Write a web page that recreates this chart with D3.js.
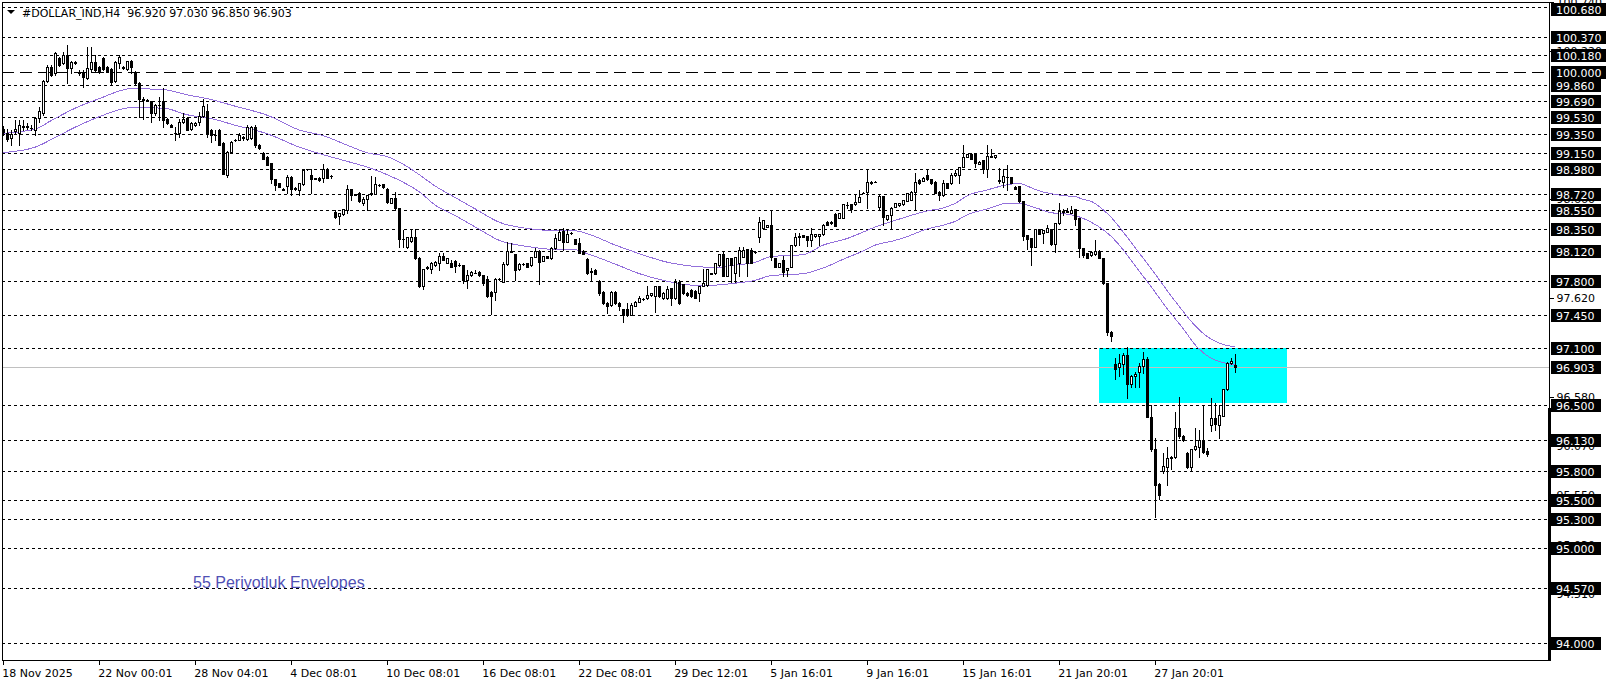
<!DOCTYPE html>
<html><head><meta charset="utf-8">
<script src="https://cdn.jsdelivr.net/npm/d3@7"></script>
<style>html,body{margin:0;padding:0;background:#fff;}svg{display:block;}</style>
</head><body>
<svg id="chart" width="1606" height="684"></svg>
<script>
// ---------------- DATA ----------------
const titleText = "#DOLLAR_IND,H4  96.920 97.030 96.850 96.903";
const indicatorLabel = "55 Periyotluk Envelopes";

const opens = [
99.40,99.355,99.31,99.38,99.355,99.43,99.42,99.415,99.39,99.52,
99.565,99.90,100.05,99.985,100.145,100.09,100.18,100.04,100.11,99.99,
99.985,99.935,100.03,100.11,100.05,100.145,100.055,100.03,99.90,100.09,
100.04,100.03,100.12,100.00,99.885,99.72,99.70,99.69,99.565,99.65,
99.69,99.51,99.44,99.355,99.355,99.475,99.52,99.40,99.44,99.475,
99.535,99.585,99.39,99.335,99.39,99.25,98.92,99.16,99.28,99.285,
99.32,99.30,99.31,99.425,99.23,99.15,99.11,99.04,98.87,98.83,
98.775,98.80,98.90,98.78,98.76,98.82,98.975,98.915,98.88,98.89,
98.89,98.985,98.905,98.53,98.485,98.505,98.55,98.765,98.71,98.73,
98.625,98.66,98.72,98.72,98.81,98.82,98.775,98.625,98.67,98.565,
98.24,98.165,98.22,98.27,98.04,97.75,97.94,97.925,97.97,97.995,
98.065,97.995,97.99,98.015,97.97,97.97,97.815,97.865,97.89,97.90,
97.865,97.82,97.69,97.69,97.82,97.795,97.98,98.11,98.085,97.925,
97.98,97.99,97.97,98.06,98.12,98.015,98.065,98.04,98.145,98.235,
98.33,98.215,98.31,98.24,98.20,98.12,98.03,97.90,97.92,97.805,
97.69,97.575,97.55,97.69,97.57,97.505,97.505,97.445,97.54,97.585,
97.61,97.62,97.655,97.64,97.745,97.62,97.62,97.725,97.62,97.795,
97.77,97.68,97.71,97.70,97.68,97.75,97.76,97.88,97.885,97.97,
98.085,97.855,98.04,97.89,97.99,98.06,98.135,98.13,98.11,98.26,
98.355,98.375,98.39,98.04,97.955,98.025,97.92,97.955,98.18,98.27,
98.285,98.275,98.235,98.275,98.275,98.295,98.425,98.41,98.505,98.47,
98.47,98.60,98.61,98.61,98.635,98.73,98.74,98.845,98.845,98.585,
98.695,98.45,98.495,98.585,98.60,98.61,98.645,98.655,98.74,98.865,
98.855,98.915,98.87,98.845,98.74,98.705,98.83,98.83,98.915,98.915,
99.005,99.11,99.14,99.14,99.035,99.07,98.985,99.12,99.105,98.865,
98.845,98.90,98.895,98.795,98.80,98.64,98.285,98.25,98.165,98.345,
98.305,98.32,98.345,98.19,98.41,98.53,98.53,98.52,98.555,98.46,
98.145,98.095,98.075,98.085,98.12,98.04,97.78,97.27,96.93,96.895,
96.935,97.025,96.715,96.80,96.85,96.91,96.98,96.376,96.033,95.67,
95.809,95.851,95.938,95.949,96.261,96.173,95.998,95.851,96.033,96.061,
96.131,96.016,96.289,96.359,96.289,96.383,96.664,96.937,96.92];

const highs = [
99.43,99.405,99.39,99.495,99.50,99.495,99.46,99.44,99.53,99.63,
99.92,100.07,100.07,100.205,100.16,100.205,100.285,100.12,100.115,100.02,
100.02,100.26,100.265,100.18,100.06,100.16,100.06,100.04,100.12,100.18,
100.06,100.12,100.125,100.01,99.89,99.74,99.72,99.70,99.66,99.74,
99.83,99.52,99.45,99.425,99.51,99.565,99.53,99.47,99.475,99.58,
99.72,99.66,99.40,99.39,99.40,99.26,99.165,99.27,99.30,99.355,
99.33,99.445,99.43,99.445,99.24,99.16,99.12,99.045,98.875,98.835,
98.78,98.915,98.905,98.79,98.835,98.975,98.98,98.975,98.89,98.895,
99.03,98.99,98.92,98.55,98.52,98.56,98.81,98.77,98.72,98.735,
98.69,98.71,98.905,98.90,98.82,98.825,98.78,98.675,98.74,98.57,
98.34,98.27,98.345,98.345,98.05,97.93,97.96,98.00,98.01,98.10,
98.10,98.045,98.025,98.02,97.995,97.975,97.92,97.905,97.92,97.905,
97.87,97.855,97.695,97.83,97.83,98.005,98.215,98.20,98.09,97.99,
97.99,97.995,98.06,98.145,98.125,98.07,98.07,98.155,98.295,98.345,
98.355,98.34,98.32,98.245,98.25,98.125,98.04,97.935,97.925,97.815,
97.695,97.58,97.695,97.695,97.585,97.51,97.575,97.575,97.59,97.64,
97.62,97.745,97.675,97.745,97.75,97.685,97.745,97.73,97.82,97.815,
97.775,97.685,97.715,97.705,97.755,97.925,97.93,97.89,97.99,98.09,
98.11,98.045,98.045,98.06,98.165,98.165,98.14,98.145,98.12,98.48,
98.445,98.395,98.55,98.045,97.99,98.065,97.94,98.185,98.305,98.305,
98.29,98.28,98.365,98.30,98.30,98.40,98.43,98.43,98.515,98.515,
98.615,98.635,98.615,98.705,98.76,98.74,98.975,98.85,98.85,98.705,
98.70,98.50,98.58,98.62,98.62,98.655,98.725,98.745,98.935,98.87,
98.895,98.975,98.875,98.85,98.745,98.865,98.835,98.935,98.97,99.00,
99.23,99.14,99.145,99.145,99.06,99.075,99.23,99.19,99.13,98.99,
98.985,99.02,98.90,98.80,98.805,98.645,98.29,98.255,98.35,98.35,
98.34,98.39,98.35,98.41,98.62,98.555,98.565,98.59,98.56,98.465,
98.15,98.10,98.115,98.235,98.13,98.045,97.785,97.275,96.99,97.04,
97.05,97.11,96.81,96.85,96.937,97.06,97.00,96.50,96.15,95.68,
95.991,96.061,95.96,96.429,96.587,96.18,96.00,96.04,96.254,96.236,
96.499,96.044,96.569,96.517,96.499,96.67,96.95,96.99,97.03];

const lows = [
99.34,99.27,99.23,99.355,99.23,99.39,99.40,99.39,99.335,99.475,
99.55,99.89,99.96,99.97,100.06,100.08,99.88,99.985,100.08,99.97,
99.845,99.93,100.00,100.00,99.99,100.02,99.995,99.87,99.89,100.04,
100.03,100.02,99.985,99.86,99.53,99.51,99.69,99.475,99.55,99.495,
99.425,99.45,99.42,99.285,99.32,99.46,99.385,99.39,99.43,99.44,
99.53,99.32,99.265,99.285,99.23,98.925,98.90,99.15,99.27,99.28,
99.29,99.29,99.30,99.215,99.19,99.085,99.02,98.83,98.76,98.79,
98.755,98.725,98.705,98.76,98.705,98.815,98.97,98.725,98.875,98.85,
98.845,98.885,98.89,98.46,98.40,98.50,98.515,98.655,98.705,98.635,
98.60,98.55,98.705,98.715,98.805,98.785,98.62,98.62,98.55,98.165,
98.165,98.15,98.21,98.03,97.74,97.715,97.93,97.885,97.965,97.92,
98.02,97.99,97.95,97.90,97.965,97.78,97.725,97.86,97.885,97.86,
97.76,97.635,97.455,97.60,97.815,97.79,97.975,98.105,97.815,97.92,
97.975,97.95,97.965,98.055,97.77,98.01,98.04,98.035,98.14,98.23,
98.13,98.21,98.30,98.19,98.10,98.085,97.88,97.805,97.875,97.655,
97.565,97.47,97.545,97.565,97.50,97.375,97.435,97.44,97.535,97.58,
97.60,97.615,97.65,97.48,97.635,97.615,97.615,97.55,97.615,97.565,
97.67,97.65,97.635,97.62,97.595,97.745,97.755,97.875,97.88,97.965,
97.85,97.85,97.795,97.795,97.85,98.055,97.86,97.99,98.10,98.215,
98.35,98.37,98.02,97.95,97.95,97.85,97.85,97.95,98.175,98.18,
98.265,98.17,98.17,98.27,98.18,98.29,98.39,98.405,98.38,98.465,
98.465,98.565,98.53,98.605,98.63,98.725,98.565,98.825,98.84,98.55,
98.39,98.445,98.345,98.58,98.595,98.605,98.64,98.65,98.55,98.825,
98.85,98.865,98.825,98.725,98.655,98.70,98.785,98.825,98.91,98.83,
99.00,99.105,99.09,99.00,99.03,98.94,98.90,99.105,99.10,98.83,
98.795,98.76,98.83,98.765,98.635,98.235,98.135,97.97,98.16,98.295,
98.20,98.315,98.18,98.11,98.405,98.50,98.525,98.515,98.39,98.06,
98.06,98.04,98.07,98.08,98.04,97.775,97.235,97.175,96.77,96.80,
96.83,96.57,96.69,96.69,96.692,96.832,96.37,96.02,95.325,95.508,
95.788,95.658,95.83,95.939,96.149,96.124,95.84,95.816,96.026,95.956,
95.998,95.963,96.229,96.236,96.149,96.38,96.66,96.93,96.85];

const closes = [
99.37,99.30,99.35,99.40,99.44,99.425,99.43,99.41,99.52,99.585,
99.90,100.055,99.97,100.195,100.075,100.18,100.04,100.11,100.09,100.00,
99.95,100.04,100.11,100.02,100.00,100.03,100.00,99.89,100.11,100.16,
100.055,100.115,100.05,99.88,99.72,99.705,99.705,99.565,99.655,99.655,
99.495,99.46,99.425,99.36,99.475,99.51,99.39,99.46,99.465,99.535,
99.64,99.355,99.335,99.34,99.235,98.93,99.16,99.265,99.285,99.335,
99.305,99.425,99.42,99.235,99.20,99.09,99.025,98.88,98.81,98.795,
98.76,98.90,98.765,98.765,98.83,98.97,98.975,98.88,98.885,98.865,
98.985,98.89,98.905,98.48,98.515,98.555,98.765,98.705,98.715,98.64,
98.66,98.705,98.725,98.82,98.815,98.79,98.635,98.67,98.565,98.24,
98.245,98.26,98.26,98.04,97.75,97.925,97.945,97.995,98.005,98.065,
98.025,98.04,97.955,97.96,97.975,97.815,97.865,97.90,97.89,97.865,
97.785,97.64,97.64,97.82,97.82,97.98,98.12,98.115,97.92,97.985,
97.985,97.955,98.06,98.12,98.005,98.065,98.04,98.145,98.25,98.32,
98.215,98.295,98.31,98.19,98.10,98.085,97.885,97.905,97.875,97.68,
97.57,97.54,97.69,97.57,97.54,97.45,97.445,97.55,97.585,97.62,
97.61,97.655,97.675,97.745,97.64,97.68,97.715,97.62,97.795,97.57,
97.675,97.655,97.64,97.62,97.75,97.78,97.925,97.885,97.99,98.085,
97.855,98.04,97.97,98.06,98.13,98.13,97.99,97.995,98.11,98.425,
98.445,98.39,98.06,97.955,97.99,97.90,97.935,98.18,98.27,98.28,
98.27,98.235,98.295,98.295,98.295,98.395,98.39,98.425,98.38,98.515,
98.61,98.605,98.555,98.635,98.69,98.73,98.845,98.83,98.845,98.695,
98.48,98.495,98.575,98.62,98.62,98.655,98.725,98.74,98.845,98.83,
98.89,98.87,98.83,98.73,98.705,98.83,98.785,98.915,98.94,99.00,
99.11,99.14,99.09,99.04,99.055,98.975,99.115,99.11,99.125,98.855,
98.905,98.895,98.83,98.765,98.64,98.275,98.24,98.165,98.345,98.295,
98.34,98.365,98.19,98.41,98.54,98.535,98.535,98.55,98.45,98.145,
98.075,98.04,98.11,98.12,98.04,97.78,97.27,97.22,96.88,96.945,
97.025,96.715,96.805,96.825,96.91,96.98,96.376,96.033,95.66,95.553,
95.858,95.938,95.956,96.254,96.173,96.131,95.851,96.033,96.068,96.131,
96.009,95.984,96.359,96.299,96.394,96.664,96.944,96.965,96.903];

// Envelopes (55 periods) read at sample bars
const envBars = [0,8,12,18,24,32,40,46,52,58,66,74,80,86,91,96,100,104,108,113,118,124,132,139,143,146,153,159,166,172,178,183,188,192,196,200,205,211,214,218,223,226,231,235,238,241,246,251,254,256,259,262,265,268,270,272,275,277,279,283,287,291,295,298,302,305,308];
const envUpper = [99.355,99.40,99.49,99.62,99.72,99.825,99.815,99.76,99.71,99.64,99.545,99.39,99.33,99.23,99.15,99.11,99.03,98.92,98.80,98.68,98.56,98.42,98.35,98.33,98.33,98.30,98.18,98.09,98.00,97.96,97.945,97.97,98.00,98.06,98.07,98.08,98.18,98.25,98.30,98.37,98.44,98.48,98.54,98.57,98.62,98.70,98.76,98.815,98.83,98.80,98.75,98.72,98.70,98.69,98.66,98.64,98.55,98.47,98.37,98.15,97.93,97.70,97.48,97.33,97.19,97.135,97.11];
const envLower = [99.152,99.21,99.29,99.42,99.53,99.625,99.62,99.55,99.51,99.44,99.35,99.21,99.13,99.06,99.00,98.92,98.84,98.74,98.60,98.49,98.37,98.23,98.16,98.13,98.13,98.09,97.98,97.88,97.80,97.76,97.76,97.78,97.81,97.86,97.87,97.88,97.94,98.05,98.10,98.18,98.23,98.27,98.35,98.39,98.43,98.50,98.56,98.62,98.62,98.60,98.56,98.52,98.51,98.49,98.46,98.42,98.34,98.27,98.18,97.96,97.74,97.51,97.30,97.13,96.99,96.945,96.92];

// Time axis
const timeTickBars = [0,24,48,72,96,120,144,168,192,216,240,264,288];
const timeTickLabels = ["18 Nov 2025","22 Nov 00:01","28 Nov 04:01","4 Dec 08:01","10 Dec 08:01","16 Dec 08:01","22 Dec 08:01","29 Dec 12:01","5 Jan 16:01","9 Jan 16:01","15 Jan 16:01","21 Jan 20:01","27 Jan 20:01"];

// Price axis ticks (plain labels; the ones that peek out from behind the level boxes)
const priceTicks = [100.74,100.22,98.66,97.62,96.58,96.07,95.55,95.03,94.51];

// Horizontal level lines (short dashes) and the round-number level (long dashes)
const dottedLevels = [100.680,100.370,100.180,99.860,99.690,99.530,99.350,99.150,98.980,98.720,98.550,98.350,98.120,97.800,97.450,97.100,96.500,96.130,95.800,95.500,95.300,95.000,94.570,94.000];
const dashedLevels = [100.000];
const bidPrice = 96.903;

// Cyan zone
const zonePrices = [97.10, 96.52];
const zoneBars = [274, 321];

// ---------------- DRAWING ----------------
const plotLeft = 2, plotTop = 2, plotRight = 1549, plotBottom = 660;
const x = d3.scaleLinear().domain([0, 24]).range([3.3, 99.3]);
const y = d3.scaleLinear().domain([100.68, 94.0]).range([7.3, 642.7]);

const svg = d3.select('#chart');
svg.append('rect').attr('width',1606).attr('height',684).attr('fill','#fff');
svg.append('defs').append('clipPath').attr('id','plotClip').append('rect')
  .attr('x', plotLeft).attr('y', plotTop)
  .attr('width', plotRight - plotLeft).attr('height', plotBottom - plotTop);

const plot = svg.append('g').attr('clip-path','url(#plotClip)');

// zone (background)
const zx0 = Math.round(x(zoneBars[0])), zx1 = Math.round(x(zoneBars[1]));
const zy0 = Math.round(y(zonePrices[0])), zy1 = Math.round(y(zonePrices[1]));
plot.append('rect').attr('x', zx0).attr('y', zy0).attr('width', zx1 - zx0).attr('height', zy1 - zy0)
  .attr('fill', '#00FFFF').attr('shape-rendering','crispEdges');

// level lines
const lv = plot.append('g').attr('shape-rendering','crispEdges');
lv.selectAll('line.dot').data(dottedLevels).join('line')
  .attr('x1', plotLeft).attr('x2', plotRight)
  .attr('y1', d => Math.round(y(d)) + 0.5).attr('y2', d => Math.round(y(d)) + 0.5)
  .attr('stroke', '#000').attr('stroke-width', 1).attr('stroke-dasharray', '3,3');
lv.selectAll('line.dash').data(dashedLevels).join('line')
  .attr('x1', plotLeft).attr('x2', plotRight)
  .attr('y1', d => Math.round(y(d)) + 0.5).attr('y2', d => Math.round(y(d)) + 0.5)
  .attr('stroke', '#000').attr('stroke-width', 1).attr('stroke-dasharray', '12,6');
// bid line
lv.append('line').attr('x1', plotLeft).attr('x2', plotRight)
  .attr('y1', Math.round(y(bidPrice)) + 0.5).attr('y2', Math.round(y(bidPrice)) + 0.5)
  .attr('stroke', '#C0C0C0').attr('stroke-width', 1);

// envelopes
const envLine = vals => d3.line().x((d,i) => x(envBars[i])).y(d => y(d)).curve(d3.curveMonotoneX)(vals);
plot.append('path').attr('d', envLine(envUpper)).attr('fill','none').attr('stroke','#9370DB').attr('stroke-width',1).attr('shape-rendering','crispEdges');
plot.append('path').attr('d', envLine(envLower)).attr('fill','none').attr('stroke','#9370DB').attr('stroke-width',1).attr('shape-rendering','crispEdges');

// candles
const cg = plot.append('g').attr('shape-rendering','crispEdges');
for (let i = 0; i < closes.length; i++) {
  const o = opens[i], h = highs[i], l = lows[i], c = closes[i];
  const cx = Math.floor(x(i));
  const yh = Math.round(y(Math.max(h, o, c))), yl = Math.round(y(Math.min(l, o, c)));
  cg.append('rect').attr('x', cx).attr('y', yh).attr('width', 1).attr('height', Math.max(1, yl - yh + 1)).attr('fill', '#000');
  const yt = Math.round(y(Math.max(o, c))), yb = Math.round(y(Math.min(o, c)));
  const bh = Math.max(1, yb - yt + 1);
  cg.append('rect').attr('x', cx - 1).attr('y', yt).attr('width', 3).attr('height', bh).attr('fill', '#000');
  if (c > o && bh > 2) {
    cg.append('rect').attr('x', cx).attr('y', yt + 1).attr('width', 1).attr('height', bh - 2).attr('fill', '#fff');
  }
}

// indicator label
plot.append('text').attr('x', 193).attr('y', 588).text(indicatorLabel)
  .attr('font-family', '"Liberation Sans", Arial, sans-serif').attr('font-size', 16).attr('fill', '#5050B4');

// title
svg.append('polygon').attr('points', '7,10 15,10 11,14').attr('fill', '#000');
svg.append('text').attr('x', 22).attr('y', 16.5).attr('xml:space','preserve').style('white-space','pre')
  .text(titleText).attr('font-family', '"DejaVu Sans", sans-serif').attr('font-size', 11).attr('fill', '#000');

// frame
svg.append('rect').attr('x', plotLeft + 0.5).attr('y', plotTop + 0.5)
  .attr('width', plotRight - plotLeft).attr('height', plotBottom - plotTop)
  .attr('fill', 'none').attr('stroke', '#000').attr('stroke-width', 1).attr('shape-rendering','crispEdges');
svg.append('rect').attr('x', plotRight - 1).attr('y', 408).attr('width', 3).attr('height', plotBottom - 408 + 1)
  .attr('fill', '#000').attr('shape-rendering','crispEdges');

// bottom axis
const xAxis = d3.axisBottom(x).tickValues(timeTickBars).tickFormat((d, i) => timeTickLabels[i]).tickSize(4).tickPadding(5);
const xg = svg.append('g').attr('transform', `translate(0,${plotBottom + 0.5})`).call(xAxis);
xg.select('.domain').remove();
xg.selectAll('line').attr('stroke', '#000').attr('shape-rendering','crispEdges');
xg.selectAll('text').attr('text-anchor', 'start').attr('dx', -1.5)
  .attr('font-family', '"DejaVu Sans", sans-serif').attr('font-size', 11).attr('fill', '#000');

// right axis plain ticks
const yAxis = d3.axisRight(y).tickValues(priceTicks).tickFormat(d3.format('.3f')).tickSize(4).tickPadding(3);
const yg = svg.append('g').attr('transform', `translate(${plotRight + 0.5},0)`).call(yAxis);
yg.select('.domain').remove();
yg.selectAll('line').attr('stroke', '#000').attr('shape-rendering','crispEdges');
yg.selectAll('text').attr('font-family', '"DejaVu Sans", sans-serif').attr('font-size', 11).attr('fill', '#000');

// level label boxes
const boxLevels = dottedLevels.concat(dashedLevels).concat([bidPrice]);
const bg = svg.append('g');
boxLevels.forEach(p => {
  const yy = Math.round(y(p));
  const top = Math.max(3, yy - 6);
  const t = bg.append('text').attr('x', 1556).attr('y', top + 10.5).text(d3.format('.3f')(p))
    .attr('font-family', '"DejaVu Sans", sans-serif').attr('font-size', 11).attr('fill', '#fff');
  const w = t.node().getComputedTextLength();
  bg.insert('rect', () => t.node()).attr('x', 1551).attr('y', top).attr('width', w + 11).attr('height', 13)
    .attr('fill', '#000').attr('shape-rendering','crispEdges');
});
</script>
</body></html>
